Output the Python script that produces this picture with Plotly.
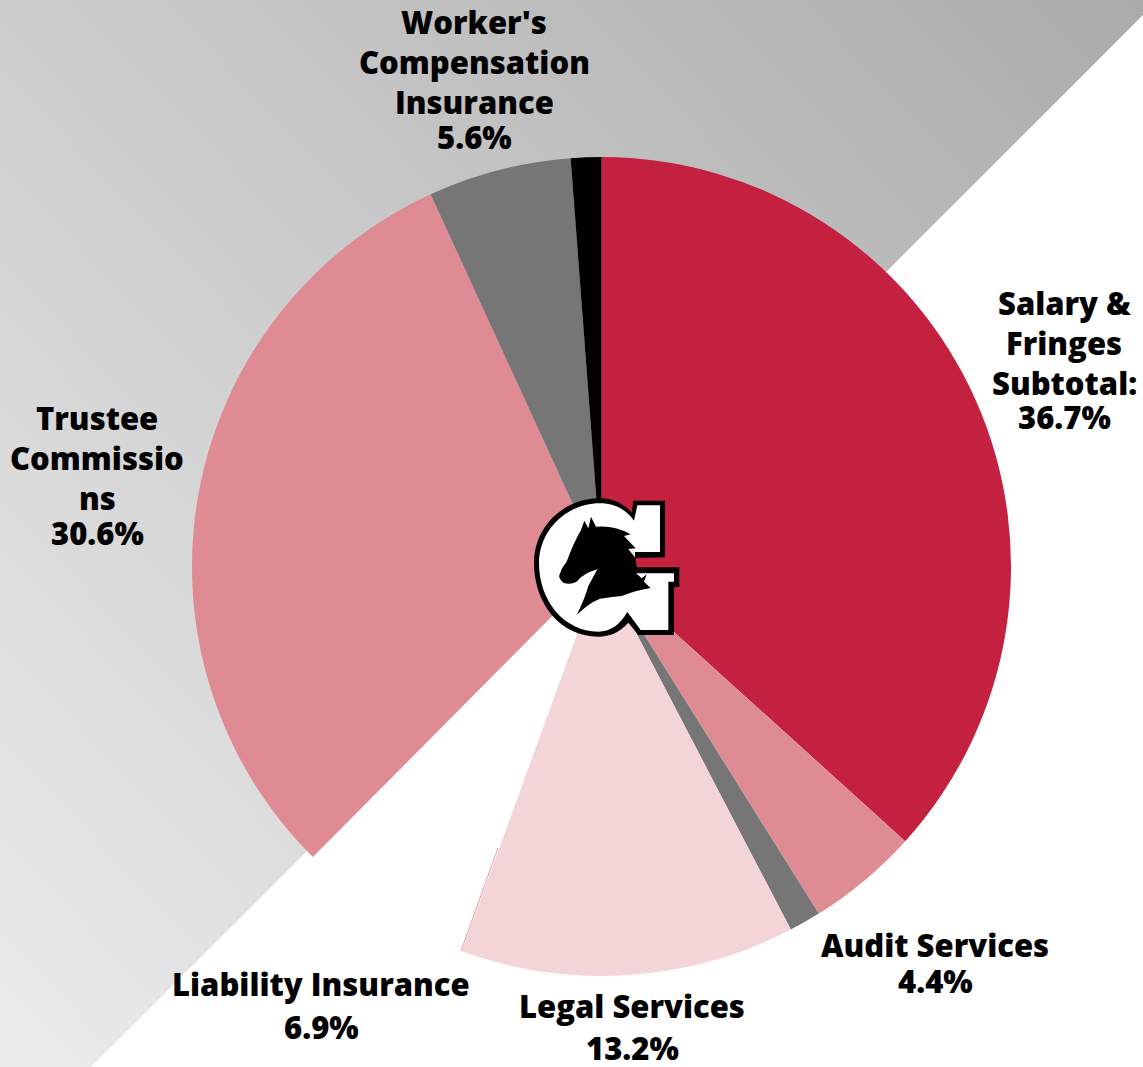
import base64
import plotly.graph_objects as go

# ---- data -----------------------------------------------------------------
categories = ["Salary & Fringes Subtotal", "Audit Services", "Other (unlabelled, grey)",
              "Legal Services", "Liability Insurance", "Trustee Commissions",
              "Worker's Compensation Insurance", "Other (unlabelled, black)"]
values = [36.7, 4.4, 1.25, 13.2, 6.9, 30.7, 5.65, 1.2]
# percentages as printed beside the wedges
printed_pct = ["36.7%", "4.4%", None, "13.2%", "6.9%", "30.6%", "5.6%", None]
slice_colors = ["#C4203F", "#DF8B94", "#767676", "#F4D5D7", "#FFFFFF", "#DF8B94", "#767676", "#000000"]

label_lines = {
    "Salary & Fringes Subtotal": ["Salary &", "Fringes", "Subtotal:"],
    "Audit Services": ["Audit Services"],
    "Legal Services": ["Legal Services"],
    "Liability Insurance": ["Liability Insurance"],
    "Trustee Commissions": ["Trustee", "Commissio", "ns"],
    "Worker's Compensation Insurance": ["Worker's", "Compensation", "Insurance"],
}

# ---- layout -----------------------------------------------------------------
W, H = 1143, 1067
FONT = "Open Sans"
label_pos = {  # centre x, centre y of each text line, in pixels
    "Salary & Fringes Subtotal": (1064, [303, 343, 383, 417]),
    "Audit Services": (935, [945, 981]),
    "Legal Services": (632, [1006, 1048]),
    "Liability Insurance": (321, [984, 1027]),
    "Trustee Commissions": (97, [418, 458, 498, 533]),
    "Worker's Compensation Insurance": (474, [22, 62, 102, 137]),
}

annotations = []
for name, pct in zip(categories, printed_pct):
    if pct is None:
        continue
    cx, ys = label_pos[name]
    for line, y in zip(label_lines[name] + [pct], ys):
        annotations.append(dict(
            text=line, x=cx / W, y=1 - y / H, xref="paper", yref="paper",
            xanchor="center", yanchor="middle", showarrow=False,
            font=dict(family=FONT, size=31, color="#000000", weight=800),
        ))

bg_svg = f'''<svg xmlns="http://www.w3.org/2000/svg" width="{W}" height="{H}" viewBox="0 0 {W} {H}">
<defs><linearGradient id="g" gradientUnits="userSpaceOnUse" x1="-40" y1="1067" x2="1143" y2="-60">
<stop offset="0" stop-color="#ededed"/><stop offset="1" stop-color="#a9a9a9"/></linearGradient></defs>
<path d="M0 0 H1143 V15 L91 1067 H0 Z" fill="url(#g)"/></svg>'''

logo_svg = '''<svg xmlns="http://www.w3.org/2000/svg" width="540" height="510" viewBox="0 0 540 510">
<path fill="#000" d="M340 62 L435 62 L435 232 L345 234 L345 262 L478 262 L478 320 L462 322 L462 465 L355 465 L325 428
C300 455 270 470 235 470 C120 470 42 370 42 250 C42 140 130 55 240 55 C280 55 310 70 335 98 Z"/>
<path fill="#fff" d="M352 76 L420 76 L420 216 L345 216 L345 280 L462 280 L462 305 L445 305 L445 450 L362 450 L322 396
C300 435 270 455 235 455 C130 455 57 360 57 250 C57 150 140 70 240 70 C285 70 320 90 342 122 Z"/>
<path fill="#000" d="M183 150 L193 122 L205 145 L213 110 L228 140 Q285 135 332 163 L312 168 L347 205 L325 207 L347 235
L350 262 L347 278 L365 295 L380 283 L372 305 L392 324 Q345 332 305 348 Q270 352 240 356 Q205 370 170 405
Q195 355 205 318 L232 268 Q190 280 170 305 Q150 315 130 308 Q115 295 118 285 Q125 262 140 245 Q160 190 183 150 Z"/></svg>'''


def data_uri(svg):
    return "data:image/svg+xml;base64," + base64.b64encode(svg.encode()).decode()


fig = go.Figure(go.Pie(
    labels=categories, values=values, sort=False, direction="clockwise", rotation=0,
    marker=dict(colors=slice_colors, line=dict(width=0)),
    textinfo="none", hoverinfo="label+percent", showlegend=False,
    domain=dict(x=[192 / W, 1011 / W], y=[1 - 976 / H, 1 - 157 / H]),
))
fig.update_layout(
    width=W, height=H, margin=dict(l=0, r=0, t=0, b=0, autoexpand=False),
    paper_bgcolor="#FFFFFF", plot_bgcolor="rgba(0,0,0,0)",
    annotations=annotations,
    images=[
        dict(source=data_uri(bg_svg), xref="paper", yref="paper", x=0, y=1, sizex=1, sizey=1,
             xanchor="left", yanchor="top", sizing="stretch", layer="below"),
        dict(source=data_uri(logo_svg), xref="paper", yref="paper", x=520 / W, y=1 - 480 / H,
             sizex=180 / W, sizey=170 / H, xanchor="left", yanchor="top", sizing="stretch", layer="above"),
    ],
    shapes=[dict(type="line", xref="paper", yref="paper", x0=461 / W, y0=1 - 951 / H, x1=498 / W, y1=1 - 848 / H,
                 line=dict(color="#E8828C", width=0.8))],
)
fig.write_html("out.html", config=dict(displayModeBar=False),
               post_script="document.body.style.margin='0';document.documentElement.style.overflow='hidden';")
